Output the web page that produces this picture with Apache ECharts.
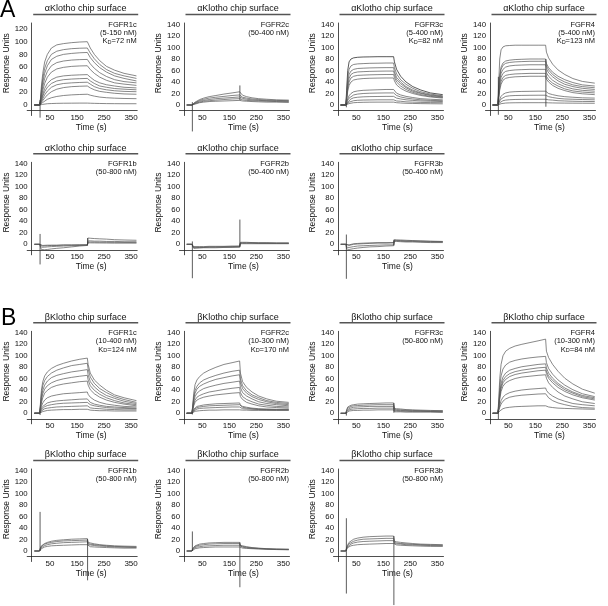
<!DOCTYPE html>
<html><head><meta charset="utf-8">
<script src="https://cdn.jsdelivr.net/npm/echarts@6/dist/echarts.min.js"></script>
<style>html,body{margin:0;padding:0;background:#fff}#c{width:608px;height:606px}</style>
</head><body><div id="c"></div>
<script>
// ---------- data ----------
const TIME = [-8, 11, 14, 18, 23, 30, 40, 55, 75, 100, 130, 160, 188, 191, 199, 214, 234, 259, 289, 324, 370];
const X_TICKS = [50, 150, 250, 350];
const Y_TICKS_120 = [0, 20, 40, 60, 80, 100, 120];
const Y_TICKS_140 = [0, 20, 40, 60, 80, 100, 120, 140];

const SURFACE_A = 'αKlotho chip surface';
const SURFACE_B = 'βKlotho chip surface';
const RECEPTORS = ['FGFR1c', 'FGFR2c', 'FGFR3c', 'FGFR4', 'FGFR1b', 'FGFR2b', 'FGFR3b'];
const A_RANGES = ['(5-150 nM)', '(50-400 nM)', '(5-400 nM)', '(5-400 nM)', '(50-800 nM)', '(50-400 nM)', '(50-400 nM)'];
const A_KD = ['72 nM', null, '82 nM', '123 nM', null, null, null];
const B_RANGES = ['(10-400 nM)', '(10-300 nM)', '(50-800 nM)', '(10-300 nM)', '(50-800 nM)', '(50-800 nM)', '(50-800 nM)'];
const B_KD = ['124 nM', '170 nM', null, '84 nM', null, null, null];

// alpha-Klotho surface
const A_FGFR1c = [
  [0,0,8,30,50,68,80,90,95,97,98.5,99.5,100,97,90,80,70,61,55,50,46],
  [0,0,6,24,42,58,70,80,85,87.5,89,89.7,90,88,82,73,64,56,50,46,42],
  [0,0,5,20,36,50,62,72,77,80,81.5,82.5,83,81,75,67,59,52,46,42,38],
  [0,0,4,16,29,42,53,62,67,69.5,71,71.7,72,70,65,58,51,45,40,37,35],
  [0,0,3,12,23,34,44,52,57,59.5,61,61.7,62,60,56,50,44,39,35,33,31],
  [0,0,2,9,17,26,34,40,44,46,47,47.6,48,47,44,39,35,32,30,28,27],
  [0,0,2,7,14,21,28,34,38,40,41,41.6,42,41,38,34,30,28,26,25,24],
  [0,0,1,5,10,16,22,28,32,34,35,35.6,36,35,33,29,26,24,22.5,21.5,21],
  [0,0,1,3,7,11,16,21,25,27.5,29,29.6,30,29,27,24,21.5,20,18.5,17.5,17],
  [0,0,0.5,2,4,6,9,11.5,13.5,15,16,16.6,17,16.5,15.5,14,12.5,11.5,10.8,10.3,10],
  [0,0,0,0.5,1,1.5,2,2.3,2.6,2.8,2.9,3,3,3,2.8,2.6,2.4,2.2,2.1,2,2]
];
const A_FGFR1c_SPIKES = [[13, -20, 8]];
const A_FGFR2c = [
  [0,0,-2,2,5,7,9.5,12,14.5,16.5,19,21,23,20,17,14.5,12.5,11,10,9,8.5],
  [0,0,-2,1.5,4,6,8,10,12,13.5,15,16.5,17.5,15.5,13.5,12,10.5,9.5,8.5,8,7.5],
  [0,0,-2,1,3,5,6.5,8,9.5,11,12,13,14,12.5,11.5,10,9,8,7.5,7,6.5],
  [0,0,-2,0.5,2.5,4,5,6.5,7.5,8.5,9.5,10.5,11,10,9,8,7.5,7,6.5,6,5.5],
  [0,0,-2,0,1.5,3,4,5,6,6.5,7,7.5,8,7.5,7,6.5,6,5.5,5,5,4.5]
];
const A_FGFR2c_SPIKES = [[13, -46, 5], [189, 8, 34]];
const A_FGFR3c = [
  [0,0,25,60,75,80,82,83,83.5,83.7,84,84,84,75,62,50,40,32,26,21,18],
  [0,0,18,48,62,68,70.5,71.5,72,72.5,72.7,73,73,65,54,44,36,29,23,19,16],
  [0,0,14,40,53,59,62,63.5,64,64.5,64.8,65,65,58,48,40,32,26,21,17.5,15],
  [0,0,12,34,46,53,56,57.5,58,58.5,58.8,59,59,53,44,37,30,24,20,16.5,14],
  [0,0,10,29,40,47,50,51.5,52,52.5,52.8,53,53,48,40,33,27,22,18,15,13],
  [0,0,8,24,34,40,43.5,45,46,46.5,46.8,47,47,42,35,29,24,20,16.5,14,12],
  [0,0,4,11,16,20,23,24.5,25.5,26,26.5,27,27,24,20.5,17.5,15,13,11,10,9],
  [0,0,3,8,12,15,17.5,19,20,20.5,20.8,21,21,19,16.5,14,12,10.5,9,8,7.5],
  [0,0,2,5,8,10.5,12.5,13.5,14.2,14.6,14.8,15,15,13.5,12,10.5,9,8,7,6.5,6],
  [0,0,1,3,5,6.5,7.5,8.2,8.6,8.8,9,9,9,8,7,6.5,5.5,5,4.5,4.2,4],
  [0,0,0.5,1.5,2.5,3.3,4,4.4,4.7,4.9,5,5,5,4.5,4,3.5,3,2.7,2.4,2.2,2]
];
const A_FGFR3c_SPIKES = [[13, -4, 3]];
const A_FGFR4 = [
  [0,0,35,80,96,101,103,103.5,104,104,104,104,104,92,82,71,61,53,46,41,38],
  [0,0,22,52,66,73,76.5,78,79,79.5,80,80,80,72,65,57,50,44,39,35,33],
  [0,0,20,48,62,69,72.5,74,75,75.5,76,76,76,68,61,53,46,40,35,32,30],
  [0,0,17,42,55,62,66,68,69,69.5,70,70,70,63,56,49,42,36,32,29,27],
  [0,0,14,36,48,55,58.5,60,61,61.5,62,62,62,56,50,43,37,32,28,25.5,24],
  [0,0,12,30,41,48,51.5,53,54,54.5,55,55,55,50,44,38,33,28,24.5,22.5,21],
  [0,0,10,26,36,43,46.5,48,49,49.5,50,50,50,45,40,34,29,25,21.5,19.5,18],
  [0,0,4,10,15,18.5,21,22.5,23.2,23.6,23.8,24,24,22,20,18,16,14.5,13.5,12.5,12],
  [0,0,3,7,10.5,13,15,16,16.5,16.7,16.9,17,17,16,14.5,13,11.5,10.5,10,9.5,9],
  [0,0,1.5,4,6,7.5,8.5,9.2,9.6,9.8,10,10,10,9.5,9,8.5,7.5,7,6.5,6.2,6],
  [0,0,0.5,1.5,2.3,3,3.4,3.7,3.9,4,4,4,4,4,3.8,3.6,3.4,3.3,3.2,3.1,3]
];
const A_FGFR4_SPIKES = [[13, -17, 49], [189, -3, 80]];
const A_FGFR1b = [
  [0,0,-3,-9,-10,-9.5,-9,-8,-7,-6,-4.5,-3,-2,11,10.5,10,9.5,9,8,7.5,7],
  [0,0,-2,-5,-5.5,-5,-4.5,-4,-3.5,-3,-2.5,-2,-1.5,6,6,5.5,5.5,5,5,4.5,4.5],
  [0,0,-2,-3,-3,-2.5,-2.5,-2,-2,-1.5,-1.5,-1,-1,4,4,3.8,3.6,3.5,3.3,3.2,3],
  [0,0,-1,-2,-2,-2,-1.5,-1.5,-1.5,-1,-1,-1,-1,2.5,2.5,2.4,2.3,2.2,2,2,2]
];
const A_FGFR1b_SPIKES = [[13, -35, 18], [189, -2, 11]];
const A_FGFR2b = [
  [0,0,3,-5,-5,-5,-5,-5,-4.5,-4.5,-4,-4,-3.5,3.5,3.5,3.5,3,3,3,2.5,2.5],
  [0,0,2,-6,-6,-6,-5.5,-5.5,-5,-5,-5,-4.5,-4.5,2.5,2.5,2.5,2.5,2,2,2,2],
  [0,0,2,-7,-7,-6.5,-6.5,-6,-6,-6,-5.5,-5.5,-5,2,2,2,2,1.5,1.5,1.5,1.5],
  [0,0,1,-4,-4,-4,-4,-4,-3.5,-3.5,-3.5,-3,-3,1,1,1,1,1,1,1,1]
];
const A_FGFR2b_SPIKES = [[13, -59, 5], [189, -5, 43]];
const A_FGFR3b = [
  [0,0,-2,-2,-1,0,1,1.5,2,2.5,3,3,3,8,7.5,7.5,7,6.5,6,5.5,5],
  [0,0,-3,-3,-2,-1,0,0.5,1,1.5,2,2,2.5,7,7,6.5,6,6,5.5,5,4.5],
  [0,0,-5,-6,-5.5,-5,-4,-3,-2.5,-2,-1.5,-1,-1,6,6,5.5,5,5,4.5,4,4],
  [0,0,-8,-10,-9,-8.5,-7.5,-6.5,-5.5,-4.5,-4,-3,-2.5,5,5,4.5,4,4,3.5,3,3]
];
const A_FGFR3b_SPIKES = [[13, -60, 17], [189, -2, 8]];

// beta-Klotho surface
const B_FGFR1c = [
  [0,0,15,40,55,65,72,78,83,87,91,94,96,85,70,58,49,40,32,27,22],
  [0,0,12,34,48,57,64,70,75,79,83,85,87,77,63,52,43,36,29,24,19],
  [0,0,10,28,40,49,56,62,66,69,72,74,76,67,55,46,38,31,26,21,17],
  [0,0,8,23,34,42,48,53,57,60,62.5,64.5,66,58,48,40,33,27,22,18,15],
  [0,0,6,18,27,35,40,45,48.5,51,53,55,56,49,41,34,28,23,19,16,13],
  [0,0,4,12,18,23,27,30,32,34,35,36,37,33,28,23,19,16,14,12,11],
  [0,0,3,8,12,15,18,20,21.5,22.5,23.5,24.5,25,22,19,16,14,12,11,10,9],
  [0,0,2,6,9,11.5,13.5,15,16.5,17.5,18,18.5,19,17,15,13,11.5,10,9,8.5,8],
  [0,0,2,4,6,8,9,10,11,11.5,12,12.5,13,10.5,9.5,8.5,8,7,6.5,6,6],
  [0,0,1,2,3,4,5,5.5,6,6.5,6.5,7,7,6,5.5,5,4.5,4.5,4,4,4]
];
const B_FGFR1c_SPIKES = [[13, -3, 3]];
const B_FGFR2c = [
  [0,0,12,35,50,58,64,70,75,80,85,88,91,70,55,45,37,30,25,21,19],
  [0,0,10,28,40,47,53,58,62,66,70,73,75,60,48,39,32,27,22,19,17],
  [0,0,9,25,35,42,47,51,55,59,62,65,67,53,43,35,29,24,20,17,15],
  [0,0,7,20,29,35,39,43,46,49,52,54,56,45,36,30,25,20,17,15,13],
  [0,0,6,16,23,28,31,34,37,39,41.5,43.5,45,36,29,24,20,16,14,12,11],
  [0,0,5,13,19,23,25.5,28,30,32,33.5,35,36,29,24,19,16,13,11,10,9],
  [0,0,3,7,10,12,13,14.5,15.5,16.5,17,17.5,18,14,12,10.5,9,8,7.5,7,7],
  [0,0,2,6,8.5,10,11,12,13,13.5,14,14.5,15,12,10.5,9,8,7,6.5,6,6],
  [0,0,2,4,6,7.5,8.5,9,9.5,10,10.5,11,11,9,8,7.5,7,6.5,6,6,6],
  [0,0,1,2.5,3.5,4,4.5,5,5.5,5.5,6,6,6,6,5.5,5.5,5,5,5,5,5]
];
const B_FGFR2c_SPIKES = [[13, -2, 2]];
const B_FGFR3c = [
  [0,0,6,11,13,14,15,16,16.5,17,17.5,18,18,8.5,8,7.5,6.5,6,5.5,5,4.5],
  [0,0,5,9,11,12,13,13.5,14,14.5,15,15,15,7,6.5,6,5.5,5,4.5,4,4],
  [0,0,4,7,8.5,9.5,10.5,11,11.5,12,12,12,12,5.5,5,5,4.5,4,4,3.5,3.5],
  [0,0,3,5,6,7,7.5,8,8.5,8.5,9,9,9,4,4,3.5,3.5,3,3,3,2.5],
  [0,0,2,3,4,4.5,5,5,5.5,5.5,6,6,6,2.5,2.5,2.5,2,2,2,2,1.5]
];
const B_FGFR3c_SPIKES = [[13, -4, 2], [189, 1, 18]];
const B_FGFR4 = [
  [0,0,20,60,85,100,108,113,117,120,123,126,129,108,97,85,73,61,51,42,35],
  [0,0,14,45,65,77,84,89,92,94.5,96.5,98,99,88,78,68,58,49,41,34,29],
  [0,0,10,35,52,63,70,75,78,81,83,85,86,79,70,61,52,44,37,31,27],
  [0,0,9,31,47,57,64,69,72.5,75,77,79,80,73,65,57,49,41,35,29,25],
  [0,0,8,28,43,53,59,64,67.5,70,72,74,75,69,61,53,45,38,32,27,23],
  [0,0,7,24,38,47,53,57,60.5,63,64.5,66,67,61,53,45,37,30,25,20,17],
  [0,0,4,14,22,28,32.5,36,38.5,40.5,42,43,44,40,35,30,25,21,17,15,13],
  [0,0,3,10,16,21,25,28,30,31.5,32.5,33.5,34,31,27,22,18,15,12,10,9],
  [0,0,1,4,6,8,9.5,10.5,11.5,12,12.5,13,13,12,11,10,9,8.5,8,7.5,7]
];
const B_FGFR4_SPIKES = [[13, -10, 5]];
const B_FGFR1b = [
  [0,0,5,9,11,13,15,17,18.5,19.5,20.5,21,21.5,15,14,12.5,11,10,9,8.5,8],
  [0,0,4,8,10,12,13.5,15,16.5,17.5,18,18.5,19,13,12,11,10,9,8,7.5,7],
  [0,0,3,6,8,9.5,11,12.5,13.5,14.5,15,15.5,16,11,10.5,9.5,8.5,8,7,6.5,6],
  [0,0,2,4,5.5,7,8,9,9.5,10,10.5,11,11,8,7.5,7,6.5,6,5.5,5,5]
];
const B_FGFR1b_SPIKES = [[13, 0, 68], [189, -51, 21]];
const B_FGFR2b = [
  [0,0,4,7,9,10.5,12,13,14,14.5,15,15,15,10,9,7.5,6,5,4,3.5,3],
  [0,0,3,6,7.5,9,10,11,12,12.5,13,13,13,8.5,8,6.5,5.5,4.5,3.5,3,3],
  [0,0,2,4.5,6,7,7.5,8.5,9,9.5,10,10,10,7,6.5,5.5,4.5,4,3.5,3,2.5],
  [0,0,1,3,4,5,5.5,6,6.5,7,7,7,7,5,5,4.5,4,3.5,3,2.5,2]
];
const B_FGFR2b_SPIKES = [[13, 0, 34], [189, -63, 15]];
const B_FGFR3b = [
  [0,0,6,11,15,18,20.5,22.5,24,25,25.5,26,26,17,16,15,14,13,12,11.5,11],
  [0,0,5,9,12.5,15,17,19,20.5,21,21.5,22,22,15,14,13,12.5,11.5,11,10.5,10],
  [0,0,4,7.5,10,12,14,15.5,16.5,17,17.5,18,18,13,12.5,12,11,10.5,10,9.5,9],
  [0,0,3,6,7.5,9,10,11,11.5,12,12.5,13,13,11,10.5,10,9.5,9,8.5,8,8]
];
const B_FGFR3b_SPIKES = [[13, -74, 57], [189, -94, 26]];

// ---------- layout ----------
const FONT = '"Liberation Sans", Arial, Helvetica, sans-serif';
const COL_X = [31.7, 184, 338, 490];      // pixel x of each column's y axis
const ROW_Y0 = [105, 244.3, 413.3, 551];  // pixel y of value 0 in each row
const PX_PER_S = 0.27, T_AT_AXIS = -18;
const SLOT = [[0,0],[1,0],[2,0],[3,0],[0,1],[1,1],[2,1]];

const figA = [A_FGFR1c, A_FGFR2c, A_FGFR3c, A_FGFR4, A_FGFR1b, A_FGFR2b, A_FGFR3b];
const figASp = [A_FGFR1c_SPIKES, A_FGFR2c_SPIKES, A_FGFR3c_SPIKES, A_FGFR4_SPIKES, A_FGFR1b_SPIKES, A_FGFR2b_SPIKES, A_FGFR3b_SPIKES];
const figB = [B_FGFR1c, B_FGFR2c, B_FGFR3c, B_FGFR4, B_FGFR1b, B_FGFR2b, B_FGFR3b];
const figBSp = [B_FGFR1c_SPIKES, B_FGFR2c_SPIKES, B_FGFR3c_SPIKES, B_FGFR4_SPIKES, B_FGFR1b_SPIKES, B_FGFR2b_SPIKES, B_FGFR3b_SPIKES];

const panels = [];
for (let i = 0; i < 7; i++) {
  panels.push({fig: 0, col: SLOT[i][0], row: SLOT[i][1], surface: SURFACE_A, curves: figA[i], spikes: figASp[i],
    rec: RECEPTORS[i], range: A_RANGES[i], kd: A_KD[i], yTicks: i === 0 ? Y_TICKS_120 : Y_TICKS_140});
}
for (let i = 0; i < 7; i++) {
  panels.push({fig: 1, col: SLOT[i][0], row: SLOT[i][1] + 2, surface: SURFACE_B, curves: figB[i], spikes: figBSp[i],
    rec: RECEPTORS[i], range: B_RANGES[i], kd: B_KD[i], yTicks: Y_TICKS_140});
}

const grid = [], xAxis = [], yAxis = [], series = [], title = [], elements = [];
const axisColor = '#222';
panels.forEach((p, i) => {
  const x0 = COL_X[p.col], y0 = ROW_Y0[p.row];
  const pxu = p.yTicks === Y_TICKS_120 ? 0.633 : 0.575;
  grid.push({left: x0 - 4.5, top: y0 - 82, width: 110, height: 92.5, outerBoundsMode: 'none', containLabel: false});
  xAxis.push({
    type: 'value', gridIndex: i, min: T_AT_AXIS - 4.5 / PX_PER_S, max: T_AT_AXIS + 105.5 / PX_PER_S,
    offset: -4.8, position: 'bottom',
    axisLine: {show: true, onZero: false, lineStyle: {color: axisColor, width: 0.8}},
    axisTick: {show: false},
    splitLine: {show: false},
    axisLabel: {customValues: X_TICKS, fontSize: 8, color: '#111', fontFamily: FONT, margin: 3},
    name: 'Time (s)', nameLocation: 'middle', nameGap: 12,
    nameTextStyle: {fontSize: 8.5, color: '#111', fontFamily: FONT, padding: [0, 0, 0, 18]}
  });
  yAxis.push({
    type: 'value', gridIndex: i, min: -10.5 / pxu, max: 82 / pxu, offset: -4.5, position: 'left',
    axisLine: {show: true, onZero: false, lineStyle: {color: axisColor, width: 0.8}},
    axisTick: {show: false},
    splitLine: {show: false},
    axisLabel: {customValues: p.yTicks, fontSize: 7.8, color: '#111', fontFamily: FONT, margin: 4},
    name: 'Response Units', nameLocation: 'middle', nameGap: 16, nameRotate: 90,
    nameTextStyle: {fontSize: 8.5, color: '#111', fontFamily: FONT, padding: [0, 0, 0, 12]}
  });
  p.curves.forEach((c, k) => {
    series.push({
      type: 'line', xAxisIndex: i, yAxisIndex: i, data: TIME.map((t, j) => [t, c[j]]),
      showSymbol: false, clip: false, silent: true, animation: false,
      lineStyle: {width: 0.7, color: (p.rec === 'FGFR3c' && p.fig === 0 && k === 0) ? '#111' : '#555'}
    });
  });
  p.spikes.forEach(s => {
    series.push({
      type: 'line', xAxisIndex: i, yAxisIndex: i, data: [[s[0], s[1]], [s[0], s[2]]],
      showSymbol: false, clip: false, silent: true, animation: false,
      lineStyle: {width: 0.8, color: '#333'}
    });
  });
  // surface header bar + text
  elements.push({type: 'rect', shape: {x: x0 + 1.5, y: y0 - 91.3, width: 105, height: 1.6}, style: {fill: '#555'}, silent: true});
  title.push({text: p.surface, left: x0 + 54, top: y0 - 101, textAlign: 'center', textVerticalAlign: 'top', padding: 0,
    textStyle: {fontSize: 9, lineHeight: 10, fontWeight: 'normal', color: '#111', fontFamily: FONT}});
  // annotation
  let txt = p.rec + '\n' + p.range;
  if (p.kd) txt += '\n{n|K}{s|D}{n|=' + p.kd + '}';
  title.push({text: txt, left: x0 + 105, top: y0 - 84.5, textAlign: 'right', textVerticalAlign: 'top', padding: 0,
    textStyle: {fontSize: 7.5, lineHeight: 8.3, fontWeight: 'normal', color: '#111', fontFamily: FONT,
      rich: {n: {fontSize: 7.5, lineHeight: 8.3, color: '#111', fontFamily: FONT},
             s: {fontSize: 5.5, lineHeight: 4, verticalAlign: 'bottom', color: '#111', fontFamily: FONT}}}});
});
title.push({text: 'A', left: 0, top: -2, textAlign: 'left', textVerticalAlign: 'top', padding: 0,
  textStyle: {fontSize: 23, lineHeight: 26, fontWeight: 'normal', color: '#000', fontFamily: FONT}});
title.push({text: 'B', left: 1, top: 306, textAlign: 'left', textVerticalAlign: 'top', padding: 0,
  textStyle: {fontSize: 23, lineHeight: 26, fontWeight: 'normal', color: '#000', fontFamily: FONT}});

const chart = echarts.init(document.getElementById('c'), null, {renderer: 'canvas'});
chart.setOption({
  animation: false,
  backgroundColor: '#fff',
  title, grid, xAxis, yAxis, series,
  graphic: {elements}
});
</script>
</body></html>
